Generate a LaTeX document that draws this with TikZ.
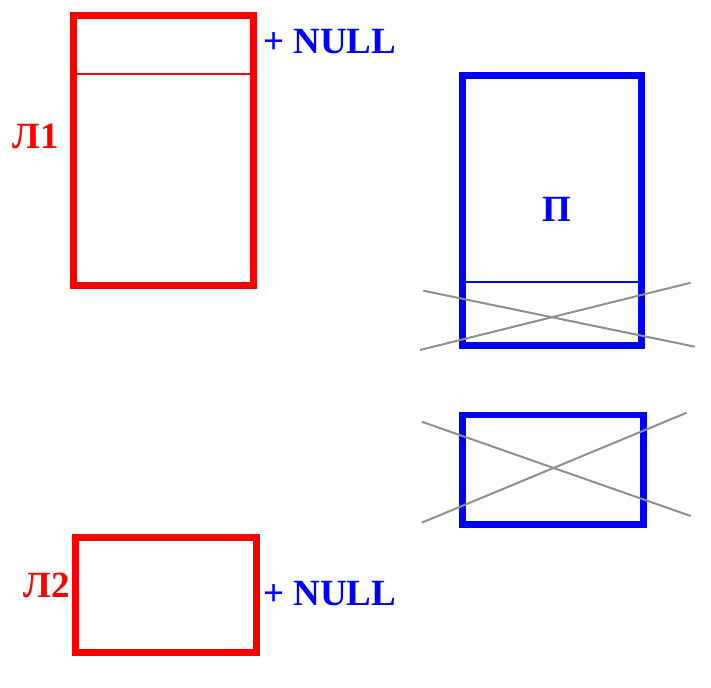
\documentclass[tikz,border=0pt]{standalone}
\usepackage{fontspec}
\setmainfont{Liberation Serif}
\begin{document}
\begin{tikzpicture}[x=1pt,y=-1pt,
  redbox/.style={draw=red,line width=6.7pt,rectangle,inner sep=0pt,outer sep=0pt},
  bluebox/.style={draw=blue,line width=6.7pt,rectangle,inner sep=0pt,outer sep=0pt},
  lbl/.style={font=\fontsize{37}{41}\selectfont\bfseries,inner sep=0pt,outer sep=0pt},
  cross/.style={draw=crossgray,line width=2pt}]
\definecolor{crossgray}{RGB}{138,145,145}
\useasboundingbox (0,0) rectangle (711,687);
% red boxes
\node[redbox,minimum width=180.4pt,minimum height=270.4pt] (r1) at (163.5,150.5) {};
\draw[red,line width=2pt] (r1.west |- 0,74) coordinate (r1a) -- (r1.east |- 0,74) coordinate (r1b);
\node[redbox,minimum width=181.4pt,minimum height=115.4pt] (r2) at (166,595) {};
% blue boxes
\node[bluebox,minimum width=179.4pt,minimum height=270.4pt] (b1) at (552,210.5) {};
\draw[blue,line width=2pt] (b1.west |- 0,281.7) coordinate (b1a) -- (b1.east |- 0,281.7) coordinate (b1b);
\node[bluebox,minimum width=181pt,minimum height=109.3pt] (b2) at (552.8,469.7) {};
% labels
\node[lbl,text=red,anchor=base west] (l1) at (12.5,148.3) {Л1};
\node[lbl,text=red,anchor=base west] (l2) at (23.5,597) {Л2};
\node[lbl,text=blue,anchor=base west] (n1) at (263,54) {+ NULL};
\node[lbl,text=blue,anchor=base west] (n2) at (263,605) {+ NULL};
\node[lbl,text=blue,anchor=base] (p) at (556.7,221) {П};
% crosses
\coordinate (c1a) at (423.3,290.7);
\coordinate (c1b) at (695,346.7);
\coordinate (c1c) at (420,350);
\coordinate (c1d) at (690.7,282.7);
\draw[cross] (c1a) -- (c1b);
\draw[cross] (c1c) -- (c1d);
\coordinate (c2a) at (421.7,421.7);
\coordinate (c2b) at (690.7,516);
\coordinate (c2c) at (421.7,522.7);
\coordinate (c2d) at (686.7,412.7);
\draw[cross] (c2a) -- (c2b);
\draw[cross] (c2c) -- (c2d);
\end{tikzpicture}
\end{document}
